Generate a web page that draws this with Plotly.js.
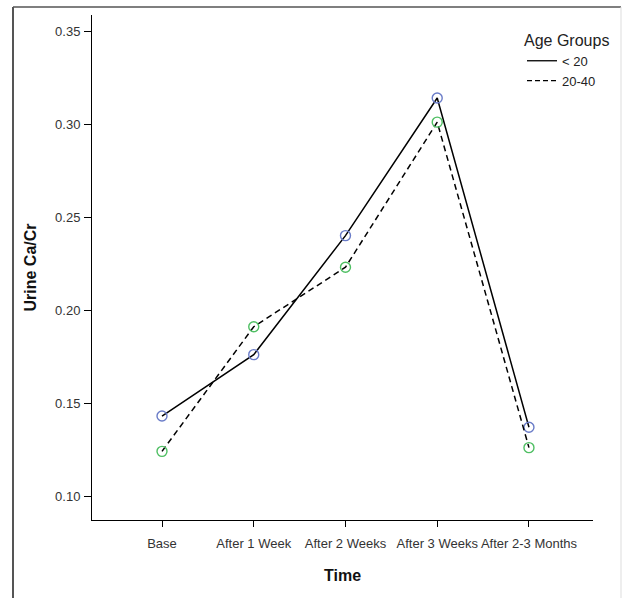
<!DOCTYPE html>
<html>
<head>
<meta charset="utf-8">
<script src="https://cdn.plot.ly/plotly-3.0.1.min.js"></script>
<style>
  html, body { margin: 0; padding: 0; background: #fff; }
  #chart { width: 624px; height: 598px; }
</style>
</head>
<body>
<div id="chart"></div>
<script>
const timePoints = ["Base", "After 1 Week", "After 2 Weeks", "After 3 Weeks", "After 2-3 Months"];
const under20 = [0.143, 0.176, 0.240, 0.314, 0.137];
const age20to40 = [0.124, 0.191, 0.223, 0.301, 0.126];
const seriesNames = ["< 20", "20-40"];

const W = 624, H = 598;
const M = { l: 92, r: 31, t: 15, b: 78, autoexpand: false };
const pw = W - M.l - M.r, ph = H - M.t - M.b;
const px = x => (x - M.l) / pw;
const py = y => (H - M.b - y) / ph;

const xIdx = timePoints.map((_, i) => i);
const dashStyle = "6px,4px";

const traces = [
  {
    x: xIdx, y: under20, mode: "lines+markers", showlegend: false,
    line: { color: "#000", width: 1.5, dash: "solid" },
    marker: { symbol: "circle-open", size: 10, color: "#6a7cc8", line: { width: 1.4, color: "#6a7cc8" } },
    name: seriesNames[0], cliponaxis: false
  },
  {
    x: xIdx, y: age20to40, mode: "lines+markers", showlegend: false,
    line: { color: "#000", width: 1.5, dash: dashStyle },
    marker: { symbol: "circle-open", size: 10, color: "#4fbf63", line: { width: 1.4, color: "#4fbf63" } },
    name: seriesNames[1], cliponaxis: false
  },
  {
    x: [null], y: [null], mode: "lines", name: seriesNames[0],
    line: { color: "#000", width: 1.3, dash: "solid" }
  },
  {
    x: [null], y: [null], mode: "lines", name: seriesNames[1],
    line: { color: "#000", width: 1.3, dash: "5px,3px" }
  }
];

const frameColor = "#555";
const layout = {
  width: W, height: H,
  margin: M,
  paper_bgcolor: "#fff", plot_bgcolor: "#fff",
  font: { family: "Liberation Sans, Arial, sans-serif", color: "#222" },
  showlegend: true,
  legend: {
    x: px(522), y: py(25), xanchor: "left", yanchor: "top",
    bgcolor: "rgba(0,0,0,0)",
    title: { text: "Age Groups", font: { size: 16, color: "#222" }, side: "top" },
    font: { size: 13, color: "#222" },
    itemwidth: 30, tracegroupgap: 0
  },
  xaxis: {
    range: [-0.763, 4.698],
    tickmode: "array", tickvals: xIdx, ticktext: timePoints,
    showgrid: false, zeroline: false,
    showline: true, linecolor: "#000", linewidth: 1,
    ticks: "outside", ticklen: 6, tickcolor: "#000", tickwidth: 1,
    ticklabelstandoff: 5,
    tickfont: { size: 13, color: "#333" },
    title: { text: "Time", font: { size: 16, color: "#111", weight: "bold" }, standoff: 20 },
    fixedrange: true
  },
  yaxis: {
    range: [0.0871, 0.3586],
    tickvals: [0.10, 0.15, 0.20, 0.25, 0.30, 0.35],
    tickformat: ".2f",
    showgrid: false, zeroline: false,
    showline: true, linecolor: "#000", linewidth: 1,
    ticks: "outside", ticklen: 7, tickcolor: "#000", tickwidth: 1,
    ticklabelstandoff: 1,
    tickfont: { size: 13, color: "#333" },
    title: { text: "Urine Ca/Cr", font: { size: 16, color: "#111", weight: "bold" }, standoff: 14 },
    fixedrange: true
  },
  shapes: [
    { type: "line", xref: "paper", yref: "paper", x0: px(13), x1: px(13), y0: py(7), y1: py(598), line: { color: frameColor, width: 2 } },
    { type: "line", xref: "paper", yref: "paper", x0: px(13), x1: px(621), y0: py(7), y1: py(7), line: { color: frameColor, width: 1.5 } },
    { type: "line", xref: "paper", yref: "paper", x0: px(621), x1: px(621), y0: py(7), y1: py(598), line: { color: "#ddd", width: 1 } }
  ]
};

Plotly.newPlot("chart", traces, layout, { displayModeBar: false, staticPlot: true });
</script>
</body>
</html>
